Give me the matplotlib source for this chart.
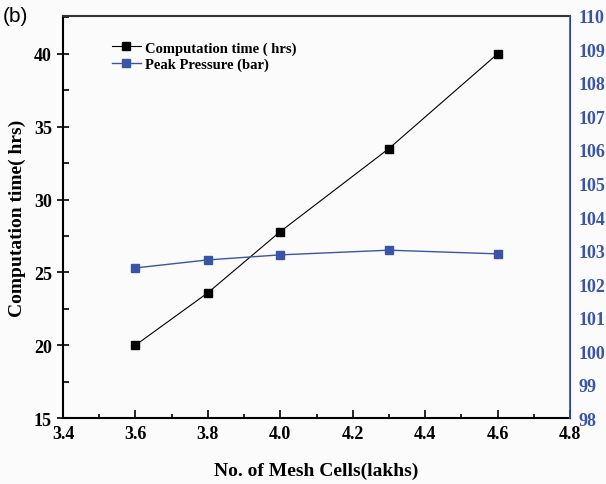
import numpy as np
import matplotlib.pyplot as plt

# mesh study data
mesh_cells = [3.6, 3.8, 4.0, 4.3, 4.6]
comp_time = [20.0, 23.6, 27.8, 33.5, 40.0]
peak_pressure = [102.48, 102.72, 102.87, 103.01, 102.90]

blue = "#3a55a5"
serif = ["Liberation Serif", "DejaVu Serif"]

fig = plt.figure(figsize=(6.06, 4.85), dpi=100, facecolor="#fbfbfb")
ax = fig.add_axes([0.104, 0.136, 0.8366, 0.829])
ax.set_facecolor("#fbfbfb")
ax2 = ax.twinx()

l1, = ax.plot(mesh_cells, comp_time, color="black", lw=0.8, marker="s",
              ms=6, label="Computation time ( hrs)")
l2, = ax2.plot(mesh_cells, peak_pressure, color=blue, lw=1.0, marker="s",
               ms=6, label="Peak Pressure (bar)")

ax.set_xlim(3.4, 4.8)
ax.set_ylim(15, 42.6)
ax2.set_ylim(98, 110)
ax.set_xticks(np.arange(3.4, 4.81, 0.2))
ax.set_xticks(np.arange(3.5, 4.8, 0.2), minor=True)
ax.set_yticks([15, 20, 25, 30, 35, 40])
ax.set_yticks([17.5, 22.5, 27.5, 32.5, 37.5, 42.5], minor=True)
ax2.set_yticks(np.arange(98, 111, 1))

ax.tick_params(axis="x", direction="in", length=6, width=1.2, pad=5)
ax.tick_params(axis="x", which="minor", direction="in", length=3, width=1.2)
ax.tick_params(axis="y", direction="inout", length=8, width=1.2, pad=4)
ax.tick_params(axis="y", which="minor", direction="in", length=4, width=1.2)
ax2.tick_params(axis="y", length=0, pad=6, labelcolor=blue)

for lab in ax.get_yticklabels() + ax2.get_yticklabels():
    lab.set_family(serif)
    lab.set_fontweight("bold")
    lab.set_fontsize(13)
ax.set_xticklabels(["%.1f" % v for v in np.arange(3.4, 4.81, 0.2)],
                   family=serif, fontweight="bold", fontsize=13)

for side in ["left", "bottom", "top"]:
    ax.spines[side].set_linewidth(1.5)
ax.spines["top"].set_color("#333333")
ax2.spines["right"].set_color(blue)
ax2.spines["right"].set_linewidth(1.2)
ax2.spines["top"].set_visible(False)
ax2.spines["left"].set_visible(False)
ax2.spines["bottom"].set_visible(False)

ax.set_xlabel("No. of Mesh Cells(lakhs)", family=serif, fontweight="bold",
              fontsize=14, labelpad=14)
ax.set_ylabel("Computation time( hrs)", family=serif, fontweight="bold",
              fontsize=14, labelpad=6)

ax.legend(handles=[l1, l2], loc="upper left", bbox_to_anchor=(0.07, 0.97),
          frameon=False, handlelength=2.0, handletextpad=0.3,
          labelspacing=0.2, prop={"family": serif, "weight": "bold", "size": 10.5})

fig.text(0.005, 0.985, "(b)", family=["Liberation Sans", "DejaVu Sans"],
         fontsize=15, va="top", ha="left")

fig.savefig("out.png", dpi=100, facecolor=fig.get_facecolor())
